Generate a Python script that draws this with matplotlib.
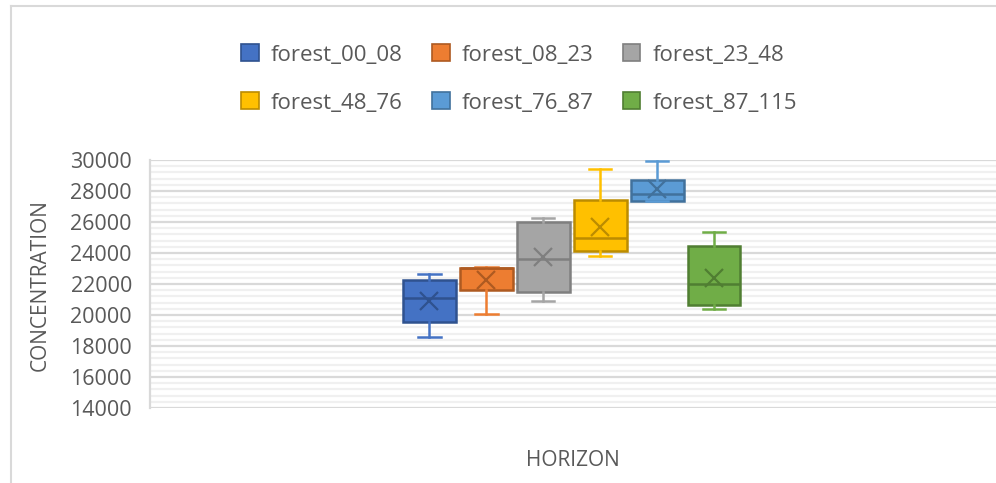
import matplotlib
matplotlib.use("Agg")
import matplotlib.pyplot as plt
from matplotlib.patches import Patch
from matplotlib.ticker import MultipleLocator
from matplotlib.lines import Line2D

# ── Data ──────────────────────────────────────────────────────────────────────
series   = ["forest_00_08", "forest_08_23", "forest_23_48",
            "forest_48_76", "forest_76_87", "forest_87_115"]
whislo   = [18600, 20050, 20920, 23800, 27350, 20370]
q1       = [19550, 21600, 21480, 24130, 27350, 20620]
medians  = [21100, 23050, 23640, 24950, 27790, 22000]
means    = [20900, 22260, 23720, 25700, 28110, 22410]
q3       = [22250, 23050, 26020, 27400, 28710, 24430]
whishi   = [22650, 23100, 26240, 29440, 29930, 25360]

# ── Colors ────────────────────────────────────────────────────────────────────
FACES = ["#4472C4", "#ED7D31", "#A5A5A5", "#FFC000", "#5B9BD5", "#70AD47"]
EDGES = ["#2F528F", "#AE5A21", "#7F7F7F", "#BC8C00", "#41719C", "#507E32"]
TEXT  = "#595959"
FONT  = "Open Sans"

plt.rcParams["font.family"] = [FONT, "DejaVu Sans"]

fig = plt.figure(figsize=(9.96, 4.83), dpi=100, facecolor="white")
W, H = 996, 483
ax = fig.add_axes([150 / W, 75 / H, 846 / W, 248 / H])

for i in range(len(series)):
    st = dict(label=series[i], whislo=whislo[i], q1=q1[i], med=medians[i],
              mean=means[i], q3=q3[i], whishi=whishi[i], fliers=[])
    ax.bxp([st], positions=[i], widths=0.93, patch_artist=True,
           showmeans=True,
           boxprops=dict(facecolor=FACES[i], edgecolor=EDGES[i], linewidth=1.8),
           medianprops=dict(color=EDGES[i], linewidth=1.8),
           whiskerprops=dict(color=FACES[i], linewidth=1.8),
           capprops=dict(color=FACES[i], linewidth=1.8),
           capwidths=0.4,
           meanprops=dict(marker="x", markersize=13, markeredgewidth=1.6,
                          markeredgecolor=EDGES[i], markerfacecolor="none"),
           zorder=3)

ax.set_xlim(-4.9, 9.95)
ax.set_ylim(14000, 30000)
ax.yaxis.set_major_locator(MultipleLocator(2000))
ax.yaxis.set_minor_locator(MultipleLocator(400))
ax.grid(True, which="major", axis="y", color="#D9D9D9", linewidth=1.6, zorder=1)
ax.grid(True, which="minor", axis="y", color="#F0F0F0", linewidth=1.6, zorder=0)
ax.set_xticks([])
ax.tick_params(axis="y", which="both", length=0, pad=13,
               labelsize=15.5, labelcolor=TEXT)
for s in ["top", "right", "bottom"]:
    ax.spines[s].set_visible(False)
ax.spines["left"].set_color("#D9D9D9")
ax.spines["left"].set_linewidth(1.6)

# axis titles
fig.text(40 / W, 1 - 285 / H, "CONCENTRATION", rotation=90, ha="center",
         va="center", fontsize=15, color=TEXT)
fig.text(573 / W, 1 - 460 / H, "HORIZON", ha="center", va="center",
         fontsize=15, color=TEXT)

# legend: matplotlib fills column-wise, so reorder to read row-wise
order = [0, 3, 1, 4, 2, 5]
handles = [Patch(facecolor=FACES[i], edgecolor=EDGES[i], linewidth=1.2,
                 label=series[i]) for i in order]
fig.legend(handles=handles, ncol=3, loc="center",
           bbox_to_anchor=(519 / W, 1 - 79 / H), frameon=False,
           prop=dict(size=16), labelcolor=TEXT,
           handlelength=0.8, handleheight=0.8, handletextpad=0.55,
           columnspacing=1.3, labelspacing=1.2)

# chart border (left and top visible)
fig.add_artist(Line2D([11 / W, 11 / W], [0, 1 - 6 / H], transform=fig.transFigure,
                      color="#D9D9D9", linewidth=1.5))
fig.add_artist(Line2D([11 / W, 1], [1 - 6 / H, 1 - 6 / H], transform=fig.transFigure,
                      color="#D9D9D9", linewidth=1.5))

fig.savefig("out.png", dpi=100, facecolor="white")
